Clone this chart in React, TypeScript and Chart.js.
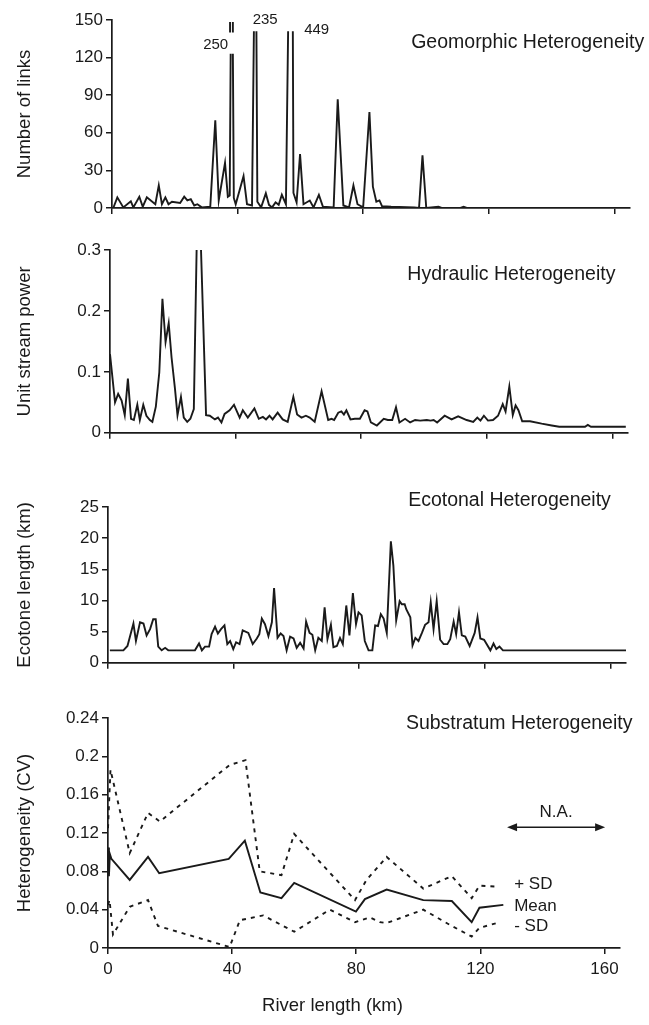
import React, { useEffect, useRef } from "react";
import { Chart, registerables } from "chart.js";

Chart.register(...registerables);

const FONT = "'Liberation Sans', Arial, Helvetica, sans-serif";
const INK = "#1a1a1a";

// ---------- shared x axis ----------
const xTickValues = [0, 40, 80, 120, 160];
const xTickLabels = ["0", "40", "80", "120", "160"];
const xMax = 165;
const xTitleText = "River length (km)";

// ---------- panel 1: geomorphic ----------
const geoKm = [0.4, 1.7, 3.6, 6.0, 6.8, 8.7, 9.8, 11.1, 13.8, 14.9, 15.9, 17.0, 18.0, 19.1, 21.7, 23.0, 24.0, 25.1, 26.2, 27.2, 28.6, 31.3, 32.9, 34.0, 36.0, 36.9, 37.5, 37.8, 38.1, 38.5, 38.8, 39.4, 41.9, 43.0, 44.6, 45.2, 45.6, 46.0, 46.3, 47.5, 49.0, 50.0, 51.0, 52.1, 53.1, 54.1, 55.4, 56.1, 56.8, 57.6, 57.8, 58.8, 59.9, 61.0, 63.0, 64.2, 65.9, 67.2, 70.6, 71.9, 73.7, 75.5, 76.9, 78.2, 80.0, 82.0, 83.1, 84.2, 85.2, 86.0, 88.9, 96.3, 97.8, 98.9, 100.1, 104.0, 105.0, 111.0, 112.0, 113.0, 165.0];
const geoLinks = [0, 8.5, 0.5, 5.3, 0.5, 9, 1, 8.5, 3, 18, 3, 8.5, 3, 5, 4, 9, 6, 7, 2, 3, 0.5, 1, 70, 6, 36, 9, 10, 123, null, 123, 8, 3, 25.5, 3, 2, 141, null, 141, 5, 0.5, 11.7, 2.5, 0.5, 4.5, 2.5, 10.5, 3, 141, null, 141, 12, 4.5, 43, 3, 6, 0.5, 10.5, 1, 0.5, 86.7, 2, 0.5, 18, 3, 0.5, 76.6, 17, 5, 6, 1.5, 1, 0.5, 0, 42, 0, 1, 0, 0, 1, 0, 0];
const geoBreakKm = [37.6, 37.6, 38.0, 38.5, 38.5];
const geoBreakLinks = [140, 148.5, null, 140, 148.5];
const geoYTicks = [0, 30, 60, 90, 120, 150];
const geoYLabels = ["0", "30", "60", "90", "120", "150"];

// ---------- panel 2: hydraulic ----------
const hydKm = [0, 1.6, 2.6, 3.7, 4.7, 5.7, 6.7, 7.6, 8.7, 9.5, 10.6, 11.6, 12.7, 13.5, 14.6, 15.7, 16.7, 17.7, 18.7, 19.6, 20.7, 21.5, 22.6, 23.5, 24.6, 25.6, 26.7, 28.1, 30.6, 31.8, 33.4, 34.4, 35.5, 36.5, 38.1, 39.5, 41.3, 42.3, 43.9, 46.0, 47.4, 48.7, 49.7, 50.8, 51.8, 53.4, 55.0, 56.6, 58.4, 59.6, 61.0, 62.4, 63.6, 65.2, 67.4, 69.5, 70.6, 71.4, 72.7, 73.7, 74.5, 75.3, 76.6, 78.0, 79.6, 81.1, 82.0, 83.1, 85.0, 87.2, 88.5, 89.9, 91.1, 92.2, 94.0, 95.6, 97.2, 98.8, 100.9, 102.1, 103.1, 104.2, 106.6, 108.8, 110.9, 113.6, 115.7, 117.0, 118.0, 119.1, 120.4, 122.0, 123.6, 125.1, 126.0, 127.2, 128.3, 129.2, 130.1, 131.3, 133.8, 137.5, 140.7, 143.1, 151.3, 152.2, 153.2, 164.3];
const hydPower = [0.129, 0.05, 0.064, 0.053, 0.029, 0.089, 0.023, 0.021, 0.046, 0.021, 0.046, 0.028, 0.021, 0.018, 0.043, 0.099, 0.22, 0.149, 0.18, 0.124, 0.072, 0.029, 0.059, 0.025, 0.018, 0.023, 0.039, 0.45, 0.029, 0.028, 0.022, 0.025, 0.017, 0.031, 0.037, 0.046, 0.025, 0.037, 0.025, 0.04, 0.023, 0.026, 0.022, 0.028, 0.022, 0.033, 0.022, 0.018, 0.059, 0.03, 0.025, 0.028, 0.025, 0.018, 0.068, 0.021, 0.023, 0.021, 0.033, 0.035, 0.03, 0.037, 0.022, 0.023, 0.023, 0.037, 0.035, 0.017, 0.012, 0.023, 0.021, 0.021, 0.042, 0.017, 0.023, 0.017, 0.021, 0.02, 0.021, 0.02, 0.021, 0.017, 0.028, 0.022, 0.027, 0.021, 0.018, 0.025, 0.02, 0.028, 0.02, 0.021, 0.028, 0.047, 0.035, 0.076, 0.029, 0.045, 0.037, 0.019, 0.019, 0.015, 0.012, 0.01, 0.01, 0.013, 0.01, 0.01];
const hydYTicks = [0, 0.1, 0.2, 0.3];
const hydYLabels = ["0", "0.1", "0.2", "0.3"];

// ---------- panel 3: ecotonal ----------
const ecoKm = [0.6, 4.9, 6.2, 8.1, 8.9, 10.2, 11.3, 12.3, 13.4, 14.4, 15.2, 16.0, 17.1, 18.2, 19.2, 27.7, 29.0, 29.9, 30.9, 32.2, 33.0, 34.1, 35.0, 36.0, 37.1, 38.0, 38.9, 39.9, 40.8, 41.9, 42.9, 44.7, 46.1, 47.4, 48.2, 49.0, 50.0, 51.1, 52.2, 52.9, 54.0, 55.0, 55.9, 56.9, 58.0, 59.1, 60.1, 61.2, 62.3, 63.1, 64.2, 65.1, 66.0, 67.0, 68.1, 69.0, 69.9, 71.0, 71.8, 72.9, 73.9, 74.8, 75.9, 76.9, 78.0, 79.0, 79.8, 80.8, 81.8, 83.0, 84.2, 85.1, 86.0, 86.9, 87.8, 88.8, 90.1, 90.9, 91.8, 92.9, 93.6, 94.5, 95.0, 96.3, 97.0, 97.9, 98.9, 100.0, 101.0, 102.1, 102.8, 103.7, 104.7, 105.8, 106.9, 108.1, 109.0, 110.1, 110.9, 111.8, 112.7, 113.8, 115.2, 116.8, 117.7, 118.6, 119.8, 121.8, 122.8, 123.7, 124.7, 125.8, 165.0];
const ecoLength = [2.0, 2.0, 2.7, 6.3, 3.5, 6.5, 6.3, 4.4, 5.4, 7.0, 7.0, 2.6, 2.0, 2.4, 2.0, 2.0, 3.1, 2.0, 2.6, 2.6, 4.6, 5.8, 4.7, 5.4, 6.0, 3.0, 3.5, 2.2, 3.3, 3.0, 5.2, 4.8, 3.0, 3.9, 4.6, 7.1, 6.2, 4.3, 6.5, 12.0, 4.0, 4.7, 4.3, 2.0, 4.2, 3.9, 2.4, 3.2, 2.3, 6.6, 4.8, 4.5, 2.0, 4.0, 3.5, 8.9, 3.8, 6.1, 2.5, 2.7, 4.0, 3.0, 9.2, 4.4, 11.2, 6.2, 8.1, 7.6, 3.5, 2.0, 2.0, 6.0, 5.9, 7.8, 7.1, 4.8, 19.5, 15.6, 6.8, 9.9, 9.4, 9.4, 8.6, 7.3, 2.8, 4.0, 3.5, 4.8, 6.1, 6.5, 9.7, 5.4, 9.9, 3.7, 3.0, 3.0, 3.8, 6.6, 4.6, 8.1, 4.4, 4.2, 2.7, 4.8, 7.3, 3.9, 3.7, 2.0, 3.1, 2.2, 2.6, 2.0, 2.0];
const ecoYTicks = [0, 5, 10, 15, 20, 25];
const ecoYLabels = ["0", "5", "10", "15", "20", "25"];

// ---------- panel 4: substratum ----------
const subMeanKm = [0, 0.3, 0.6, 1.1, 7, 12.9, 16.5, 38.9, 44.1, 49.1, 55.9, 60, 79.9, 82.8, 89.8, 101.6, 110.8, 117.2, 119.7, 127.4];
const subMean = [0.105, 0.075, 0.098, 0.093, 0.071, 0.095, 0.078, 0.093, 0.112, 0.058, 0.052, 0.068, 0.038, 0.051, 0.061, 0.05, 0.049, 0.027, 0.042, 0.045];
const subPlusKm = [0, 0.8, 7, 12.9, 16.7, 39.2, 44.3, 48.9, 55.9, 60, 79.6, 83.3, 89.8, 101.6, 110.8, 117.2, 119.7, 125.3];
const subPlusSD = [0.125, 0.186, 0.099, 0.141, 0.132, 0.191, 0.196, 0.08, 0.076, 0.119, 0.05, 0.071, 0.095, 0.062, 0.075, 0.052, 0.065, 0.064];
const subMinusKm = [0, 0.5, 1.6, 7, 12.9, 16.1, 39.2, 42.5, 50, 60, 71.5, 79.6, 84.4, 87.6, 89.8, 101.6, 110.8, 117.2, 119.7, 125.3];
const subMinusSD = [0.045, 0.05, 0.014, 0.043, 0.05, 0.023, 0.001, 0.029, 0.034, 0.017, 0.04, 0.027, 0.032, 0.027, 0.026, 0.04, 0.023, 0.012, 0.021, 0.026];
const subYTicks = [0, 0.04, 0.08, 0.12, 0.16, 0.2, 0.24];
const subYLabels = ["0", "0.04", "0.08", "0.12", "0.16", "0.2", "0.24"];

type Pt = { x: number; y: number | null };
const zip = (xs: number[], ys: (number | null)[]): Pt[] => xs.map((x, i) => ({ x, y: ys[i] }));

type TextItem = { text: string; x: number; y: number; align?: CanvasTextAlign; size?: number };
type Arrow = { x1: number; x2: number; y: number };

type PanelProps = {
  top: number;
  height: number;
  area: { left: number; right: number; top: number; bottom: number };
  yMax: number;
  yTicks: number[];
  yLabels: string[];
  yTitle: string;
  datasets: any[];
  texts: TextItem[];
  arrows?: Arrow[];
  showXLabels?: boolean;
  xTitle?: string;
};

const lineDs = (data: Pt[], dash: number[] = []) => ({
  data,
  borderColor: INK,
  borderWidth: 1.9,
  borderDash: dash,
  pointRadius: 0,
  tension: 0,
  spanGaps: false,
  fill: false,
});

function Panel(p: PanelProps) {
  const ref = useRef<HTMLCanvasElement>(null);
  useEffect(() => {
    const W = 649;
    const annotate = {
      id: "annotate",
      afterDatasetsDraw(chart: any) {
        const ctx = chart.ctx as CanvasRenderingContext2D;
        const xs = chart.scales.x;
        const ys = chart.scales.y;
        ctx.save();
        ctx.fillStyle = INK;
        ctx.strokeStyle = INK;
        for (const t of p.texts) {
          ctx.font = `${t.size ?? 17}px ${FONT}`;
          ctx.textAlign = t.align ?? "left";
          ctx.textBaseline = "middle";
          ctx.fillText(t.text, xs.getPixelForValue(t.x), ys.getPixelForValue(t.y));
        }
        for (const a of p.arrows ?? []) {
          const x1 = xs.getPixelForValue(a.x1);
          const x2 = xs.getPixelForValue(a.x2);
          const y = ys.getPixelForValue(a.y);
          ctx.lineWidth = 1.6;
          ctx.beginPath();
          ctx.moveTo(x1 + 4, y);
          ctx.lineTo(x2 - 4, y);
          ctx.stroke();
          ctx.beginPath();
          ctx.moveTo(x1, y);
          ctx.lineTo(x1 + 10, y - 4);
          ctx.lineTo(x1 + 10, y + 4);
          ctx.closePath();
          ctx.fill();
          ctx.beginPath();
          ctx.moveTo(x2, y);
          ctx.lineTo(x2 - 10, y - 4);
          ctx.lineTo(x2 - 10, y + 4);
          ctx.closePath();
          ctx.fill();
        }
        if (p.xTitle) {
          ctx.font = `18.5px ${FONT}`;
          ctx.textAlign = "center";
          ctx.textBaseline = "middle";
          ctx.fillText(p.xTitle, chart.width / 2 + 8, chart.height - 19);
        }
        ctx.restore();
      },
    };

    const axisCommon = {
      grid: { drawOnChartArea: false, drawTicks: true, tickLength: 6, color: INK, lineWidth: 1.5 },
      border: { display: true, color: INK, width: 1.7 },
    };

    const chart = new Chart(ref.current!, {
      type: "line",
      data: { datasets: p.datasets },
      options: {
        responsive: false,
        animation: false,
        devicePixelRatio: 1,
        layout: { padding: { left: 0, right: W - p.area.right, top: p.area.top - p.top, bottom: 0 } },
        plugins: { legend: { display: false }, tooltip: { enabled: false }, title: { display: false } },
        scales: {
          x: {
            type: "linear",
            min: 0,
            max: xMax,
            afterBuildTicks: (s: any) => {
              s.ticks = xTickValues.map((v) => ({ value: v }));
            },
            afterFit: (s: any) => {
              s.height = p.top + p.height - p.area.bottom;
            },
            ...axisCommon,
            ticks: {
              display: !!p.showXLabels,
              autoSkip: false,
              maxRotation: 0,
              padding: 5,
              color: INK,
              font: { family: FONT, size: 17 },
              callback: (_v: any, i: number) => xTickLabels[i],
            },
          },
          y: {
            type: "linear",
            min: 0,
            max: p.yMax,
            afterBuildTicks: (s: any) => {
              s.ticks = p.yTicks.map((v) => ({ value: v }));
            },
            afterFit: (s: any) => {
              s.width = p.area.left;
            },
            ...axisCommon,
            ticks: {
              autoSkip: false,
              padding: 3,
              color: INK,
              font: { family: FONT, size: 17 },
              callback: (_v: any, i: number) => p.yLabels[i],
            },
            title: {
              display: true,
              text: p.yTitle,
              color: INK,
              font: { family: FONT, size: 18.5 },
              padding: { top: 14, bottom: 0 },
            },
          },
        },
      } as any,
      plugins: [annotate],
    });
    return () => chart.destroy();
  }, []);

  return (
    <canvas
      ref={ref}
      width={649}
      height={p.height}
      style={{ position: "absolute", left: 0, top: p.top, width: 649, height: p.height, display: "block" }}
    />
  );
}

export default function App() {
  return (
    <div style={{ position: "absolute", left: 0, top: 0, width: 649, height: 1025, background: "#fff", overflow: "hidden" }}>
      <Panel
        top={0}
        height={222}
        area={{ left: 112, right: 630, top: 20, bottom: 208 }}
        yMax={150}
        yTicks={geoYTicks}
        yLabels={geoYLabels}
        yTitle="Number of links"
        datasets={[lineDs(zip(geoKm, geoLinks)), lineDs(zip(geoBreakKm, geoBreakLinks))]}
        texts={[
          { text: "Geomorphic Heterogeneity", x: 95.3, y: 131.7, size: 19.5 },
          { text: "250", x: 37.0, y: 130, align: "right", size: 15 },
          { text: "235", x: 48.8, y: 150, align: "center", size: 15 },
          { text: "449", x: 61.2, y: 142, align: "left", size: 15 },
        ]}
      />
      <Panel
        top={222}
        height={224}
        area={{ left: 110, right: 628, top: 250, bottom: 434 }}
        yMax={0.3}
        yTicks={hydYTicks}
        yLabels={hydYLabels}
        yTitle="Unit stream power"
        datasets={[lineDs(zip(hydKm, hydPower))]}
        texts={[{ text: "Hydraulic Heterogeneity", x: 94.7, y: 0.26, size: 19.5 }]}
      />
      <Panel
        top={446}
        height={230}
        area={{ left: 108, right: 626, top: 507, bottom: 663 }}
        yMax={25}
        yTicks={ecoYTicks}
        yLabels={ecoYLabels}
        yTitle="Ecotone length (km)"
        datasets={[lineDs(zip(ecoKm, ecoLength))]}
        texts={[{ text: "Ecotonal Heterogeneity", x: 95.6, y: 26.1, size: 19.5 }]}
      />
      <Panel
        top={676}
        height={349}
        area={{ left: 108, right: 620, top: 718, bottom: 948 }}
        yMax={0.24}
        yTicks={subYTicks}
        yLabels={subYLabels}
        yTitle="Heterogeneity (CV)"
        showXLabels
        xTitle={xTitleText}
        datasets={[
          lineDs(zip(subMeanKm, subMean)),
          lineDs(zip(subPlusKm, subPlusSD), [4, 5]),
          lineDs(zip(subMinusKm, subMinusSD), [4, 5]),
        ]}
        texts={[
          { text: "Substratum Heterogeneity", x: 96, y: 0.234, size: 19.5 },
          { text: "N.A.", x: 144.4, y: 0.142, align: "center", size: 17 },
          { text: "+ SD", x: 130.9, y: 0.066, size: 17 },
          { text: "Mean", x: 130.9, y: 0.044, size: 17 },
          { text: "- SD", x: 130.9, y: 0.023, size: 17 },
        ]}
        arrows={[{ x1: 128.6, x2: 160.2, y: 0.126 }]}
      />
    </div>
  );
}
